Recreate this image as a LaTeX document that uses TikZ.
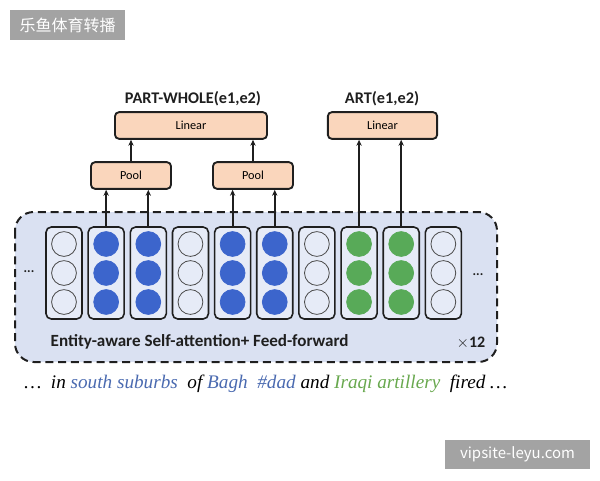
\documentclass[tikz,border=0pt]{standalone}
\usepackage{fontspec}
\setsansfont{Carlito}
\newfontfamily\cjkfont{Noto Sans CJK SC}
\newfontfamily\sentfont{Liberation Serif}
\usetikzlibrary{arrows.meta}
\definecolor{ink}{HTML}{1F1F1F}
\definecolor{layerbg}{HTML}{DAE1F2}
\definecolor{colbg}{HTML}{E6EBF7}
\definecolor{headbg}{HTML}{FAD6BC}
\definecolor{entblue}{HTML}{3C65CC}
\definecolor{entgreen}{HTML}{58AA58}
\definecolor{txtblue}{HTML}{4A6AB0}
\definecolor{txtgreen}{HTML}{68A84E}
\definecolor{wmark}{HTML}{A3A3A3}
\tikzset{
  token/.style={draw=ink,line width=1.2pt,rounded corners=4pt,fill=colbg,
    minimum width=27pt,minimum height=69pt,inner sep=0pt},
  unit/.style={circle,draw=#1,line width=0.6pt,fill=#1,minimum size=18.6pt,inner sep=0pt},
  emptyunit/.style={circle,draw=ink!80,line width=0.6pt,fill=colbg,minimum size=18.6pt,inner sep=0pt},
  headbox/.style={draw=ink,line width=1.4pt,rounded corners=3pt,fill=headbg,
    minimum height=20pt,inner sep=0pt,font=\sffamily\fontsize{9.2}{11}\selectfont},
  feed/.style={ink,line width=1.5pt,-{Stealth[length=4.5pt,width=4pt]}},
  tag/.style={font=\sffamily\bfseries\fontsize{12.2}{14}\selectfont,ink},
  wbox/.style={fill=wmark,text=white,inner sep=0pt},
}

\begin{document}
\begin{tikzpicture}[x=0.75pt,y=-0.75pt]
\useasboundingbox (0,0) rectangle (600,480);

% ---------------------------------------------------------------- watermarks
\node[wbox,minimum width=86pt,minimum height=22.5pt,font=\cjkfont\fontsize{12}{14}\selectfont]
     (wmtop) at (67.5,25) {乐鱼体育转播};
\node[wbox,minimum width=109pt,minimum height=22pt,font=\cjkfont\fontsize{11.2}{13}\selectfont]
     (wmbot) at (517.5,454.5) {vipsite-leyu.com};

% ---------------------------------------------------------------- encoder layer
\draw[ink,line width=1.5pt,dash pattern=on 6pt off 3.6pt,fill=layerbg,rounded corners=14pt]
     (15,212) rectangle (497,362);

% token columns: e = empty, b = blue entity, g = green entity
\foreach \i/\k in {1/e,2/b,3/b,4/e,5/b,6/b,7/e,8/g,9/g,10/e}{
  \node[token] (c\i) at ({64+42.15*(\i-1)},273) {};
  \foreach \j/\y in {1/244,2/273,3/302}{
    \if\k e
      \node[emptyunit] (c\i u\j) at ({64+42.15*(\i-1)},\y) {};
    \else\if\k b
      \node[unit=entblue] (c\i u\j) at ({64+42.15*(\i-1)},\y) {};
    \else
      \node[unit=entgreen] (c\i u\j) at ({64+42.15*(\i-1)},\y) {};
    \fi\fi
  }
}
\node[ink,font=\sffamily\bfseries] (dotsl) at (29,272) {...};
\node[ink,font=\sffamily\bfseries] (dotsr) at (478,275) {...};

\node[tag,anchor=west,font=\sffamily\bfseries\fontsize{12.8}{15}\selectfont] (layer) at (46,342)
     {Entity-aware Self-attention+ Feed-forward};
\node[ink,font=\sffamily\bfseries\fontsize{12}{14}\selectfont] (times) at (471,343) {$\times$12};

% ---------------------------------------------------------------- heads
\node[headbox,minimum width=60pt] (poolA) at (131,175.5) {Pool};
\node[headbox,minimum width=60pt] (poolB) at (253,175.5) {Pool};
\node[headbox,minimum width=114pt] (linA) at (191,125.5) {Linear};
\node[headbox,minimum width=82pt] (linB) at (382.5,125.5) {Linear};

\node[tag] (relA) at (193,99) {PART-WHOLE(e1,e2)};
\node[tag] (relB) at (382,99) {ART(e1,e2)};

% ---------------------------------------------------------------- arrows
\draw[feed] (c2.north) -- (c2.north |- poolA.south);
\draw[feed] (c3.north) -- (c3.north |- poolA.south);
\draw[feed] (c5.north) -- (c5.north |- poolB.south);
\draw[feed] (c6.north) -- (c6.north |- poolB.south);
\draw[feed] (poolA.north) -- (poolA.north |- linA.south);
\draw[feed] (poolB.north) -- (poolB.north |- linA.south);
\draw[feed] (c8.north) -- (c8.north |- linB.south);
\draw[feed] (c9.north) -- (c9.north |- linB.south);

% ---------------------------------------------------------------- sentence
\node[anchor=west,inner sep=0pt,font=\sentfont\itshape\fontsize{14.4}{17}\selectfont] (sent) at (24,384)
     {\ldots\ \ in \textcolor{txtblue}{south suburbs}\ \ of \textcolor{txtblue}{Bagh}\ \ 
      \textcolor{txtblue}{\#dad} and \textcolor{txtgreen}{Iraqi artillery}\ \ fired \ldots};

\end{tikzpicture}
\end{document}
